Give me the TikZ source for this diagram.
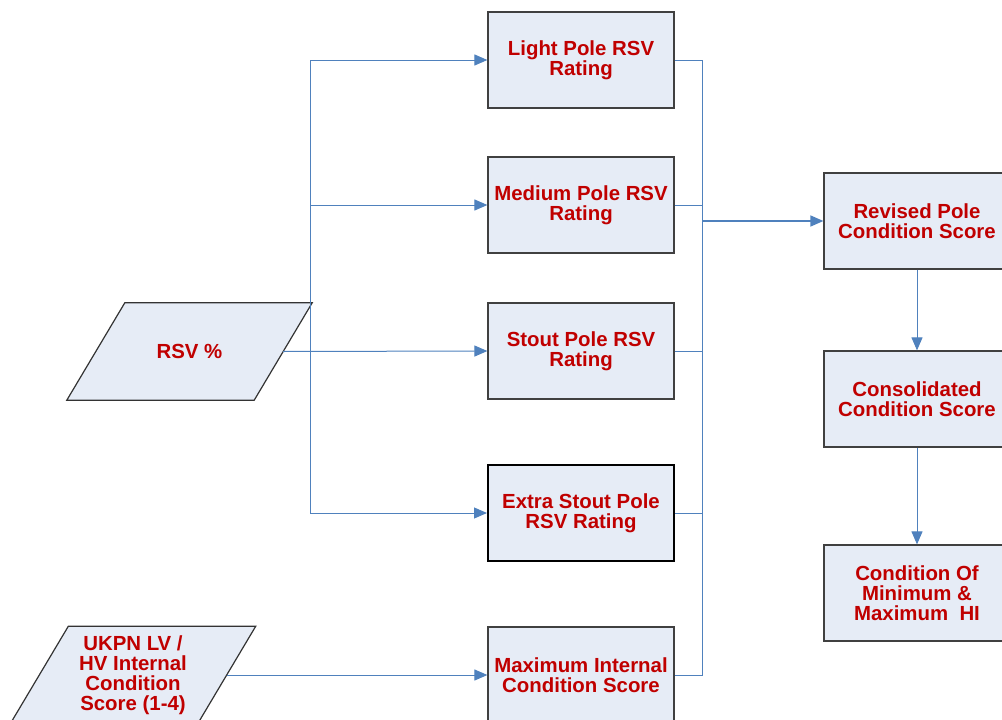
\documentclass[tikz,border=0pt]{standalone}
\usepackage{fontspec}
\setmainfont{Liberation Sans}
\usetikzlibrary{arrows.meta, backgrounds}
\definecolor{boxFill}{RGB}{230, 236, 246}
\definecolor{linkBlue}{RGB}{79, 129, 189}
\definecolor{labelRed}{RGB}{192, 0, 0}

\begin{document}
\begin{tikzpicture}[x=1pt, y=-1pt,
    lbl/.style={font=\bfseries\fontsize{20.4}{20}\selectfont, text=labelRed, align=center},
    box/.style={lbl, draw=black!75, line width=1.2pt, fill=boxFill, minimum width=186pt, minimum height=96pt, inner sep=0pt},
    datain/.style={lbl, minimum width=187pt, minimum height=97pt, inner sep=0pt},
    slant/.style={draw=black!80, line width=1.2pt, fill=boxFill, line join=miter},
    link/.style={draw=linkBlue, line width=1pt},
    flow/.style={link, -{Triangle[length=13pt, width=11pt]}}]
  \useasboundingbox (0,0) rectangle (1002,720);
  \clip (0,0) rectangle (1002,720);

  % Inputs (parallelogram outline drawn behind)
  \node[datain] (rsv) at (189.5, 351.5) {RSV \%};
  \node[datain] (ukpn) at (133, 675) {UKPN LV /\\HV Internal\\Condition\\Score (1-4)};
  \begin{scope}[on background layer]
    \foreach \d in {rsv, ukpn}
      \draw[slant] ([xshift=29pt]\d.north west) -- ([xshift=29pt]\d.north east)
        -- ([xshift=-29pt]\d.south east) -- ([xshift=-29pt]\d.south west) -- cycle;
  \end{scope}

  % Ratings column
  \node[box] (light) at (581, 60) {Light Pole RSV\\Rating};
  \node[box] (medium) at (581, 205) {Medium Pole RSV\\Rating};
  \node[box] (stout) at (581, 351) {Stout Pole RSV\\Rating};
  \node[box, draw=black, line width=2pt] (extra) at (581, 513) {Extra Stout Pole\\RSV Rating};
  \node[box] (maxint) at (581, 675) {Maximum Internal\\Condition Score};

  % Scores column
  \node[box] (revised) at (917, 221) {Revised Pole\\Condition Score};
  \node[box] (consol) at (917, 399) {Consolidated\\Condition Score};
  \node[box] (minmax) at (917, 593) {Condition Of\\Minimum \&\\Maximum~ HI};

  \coordinate (spineL) at (310, 0);
  \coordinate (spineR) at (702, 0);

  % RSV to ratings
  \draw[flow] (rsv.east) -- (stout.west);
  \draw[link] (spineL |- light.west) -- (spineL |- extra.west);
  \foreach \t in {light, medium, extra}
    \draw[flow] (spineL |- \t.west) -- (\t.west);

  \draw[flow] (ukpn.east) -- (maxint.west);

  % Ratings to revised score
  \draw[link] (light.east) -- (light.east -| spineR) -- (maxint.east -| spineR) -- (maxint.east);
  \foreach \t in {medium, stout, extra}
    \draw[link] (\t.east) -- (\t.east -| spineR);
  \draw[flow, line width=1.5pt] (spineR |- revised.west) -- (revised.west);

  \draw[flow] (revised.south) -- (consol.north);
  \draw[flow] (consol.south) -- (minmax.north);
\end{tikzpicture}
\end{document}
